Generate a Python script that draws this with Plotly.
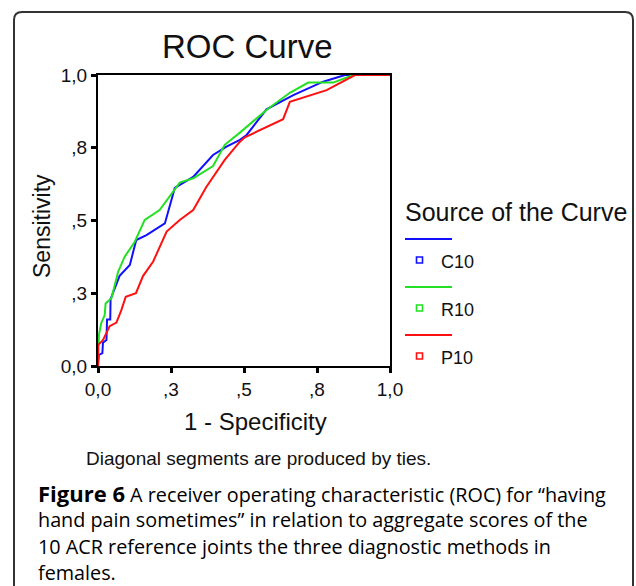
import plotly.graph_objects as go

W, H = 636, 586

# ROC curves (1 - specificity, sensitivity)
C10_x = [0, 0.003, 0.015, 0.017, 0.029, 0.031, 0.042, 0.043, 0.074, 0.109, 0.131, 0.166,
         0.229, 0.263, 0.326, 0.394, 0.44, 0.486, 0.509, 0.577, 0.669, 0.771, 0.846, 1.0]
C10_y = [0, 0.038, 0.044, 0.08, 0.089, 0.16, 0.16, 0.23, 0.31, 0.347, 0.433, 0.45,
         0.49, 0.612, 0.65, 0.725, 0.754, 0.777, 0.794, 0.882, 0.931, 0.977, 1.0, 1.0]

R10_x = [0, 0.003, 0.011, 0.023, 0.026, 0.046, 0.069, 0.091, 0.126, 0.16, 0.211, 0.263,
         0.28, 0.326, 0.394, 0.434, 0.486, 0.577, 0.657, 0.72, 0.806, 0.874, 1.0]
R10_y = [0, 0.106, 0.147, 0.175, 0.215, 0.233, 0.324, 0.375, 0.427, 0.502, 0.536, 0.61,
         0.63, 0.645, 0.687, 0.76, 0.802, 0.88, 0.939, 0.974, 0.974, 1.0, 1.0]

P10_x = [0, 0, 0.017, 0.04, 0.063, 0.08, 0.095, 0.13, 0.154, 0.189, 0.235, 0.28, 0.326,
         0.371, 0.434, 0.486, 0.503, 0.634, 0.657, 0.783, 0.88, 1.0]
P10_y = [0, 0.072, 0.089, 0.137, 0.149, 0.192, 0.238, 0.25, 0.309, 0.359, 0.462, 0.502, 0.536,
         0.615, 0.708, 0.771, 0.786, 0.848, 0.908, 0.948, 1.0, 1.0]

SERIES = ["C10", "R10", "P10"]
COLORS = ["#1010ff", "#22e022", "#ff1010"]
TICKVALS = [0, 0.25, 0.5, 0.75, 1.0]
TICKTEXT = ["0,0", ",3", ",5", ",8", "1,0"]

CAPTION = [
    "<span style='font-size:22px'><b>Figure 6</b></span> A receiver operating characteristic (ROC) for “having",
    "hand pain sometimes” in relation to aggregate scores of the",
    "10 ACR reference joints the three diagnostic methods in",
    "females.",
]

SANS = "Liberation Sans, Arial, sans-serif"
CAP_FONT = "Open Sans, Noto Sans, sans-serif"
INK = "#111111"


def px(x):
    # window pixel -> paper fraction
    return x / W


def py(y):
    return 1 - y / H


fig = go.Figure()
for name, xs, ys, c in zip(SERIES, [C10_x, R10_x, P10_x], [C10_y, R10_y, P10_y], COLORS):
    fig.add_trace(go.Scatter(x=xs, y=ys, mode="lines", name=name, showlegend=False,
                             line=dict(color=c, width=2), hoverinfo="x+y+name"))

axis = dict(range=[0, 1], showgrid=False, zeroline=False, showline=True, mirror=True,
            linecolor="#000000", linewidth=2, ticks="outside", ticklen=5, tickwidth=3,
            tickcolor="#000000", tickvals=TICKVALS, ticktext=TICKTEXT, layer="below traces",
            automargin=False, tickfont=dict(family=SANS, size=19, color=INK))

fig.update_layout(
    template="none",
    width=W, height=H,
    margin=dict(l=0, r=0, t=0, b=0, pad=0),
    paper_bgcolor="white", plot_bgcolor="white",
    xaxis=dict(axis, domain=[px(98), px(390)]),
    yaxis=dict(axis, domain=[py(366), py(75)]),
    showlegend=False,
)

# card border with rounded top corners (open at the bottom)
r = 8
L, T, R, B = 14, 12, 633, 590
path = (f"M {px(L)},{py(B)} L {px(L)},{py(T + r)} Q {px(L)},{py(T)} {px(L + r)},{py(T)} "
        f"L {px(R - r)},{py(T)} Q {px(R)},{py(T)} {px(R)},{py(T + r)} L {px(R)},{py(B)}")
fig.add_shape(type="path", path=path, xref="paper", yref="paper",
              line=dict(color="#333333", width=2))

ann = []
ann.append(dict(text="ROC Curve", x=px(247), y=py(47), font=dict(family=SANS, size=33, color=INK)))
ann.append(dict(text="Sensitivity", x=px(42), y=py(226), textangle=-90,
                font=dict(family=SANS, size=23, color=INK)))
ann.append(dict(text="1 - Specificity", x=px(255), y=py(421), font=dict(family=SANS, size=24, color=INK)))
ann.append(dict(text="Diagonal segments are produced by ties.", x=px(84), y=py(458), xanchor="left",
                font=dict(family=SANS, size=19, color=INK)))
ann.append(dict(text="Source of the Curve", x=px(403), y=py(212), xanchor="left",
                font=dict(family=SANS, size=25, color=INK)))

# legend: line, then small hollow square with label below
for i, (name, c) in enumerate(zip(SERIES, COLORS)):
    ly = 239 + i * 48
    my = ly + 21
    fig.add_shape(type="line", xref="paper", yref="paper", x0=px(405), x1=px(452), y0=py(ly), y1=py(ly),
                  line=dict(color=c, width=2))
    fig.add_shape(type="rect", xref="paper", yref="paper", x0=px(416.5), x1=px(422.5),
                  y0=py(my - 3), y1=py(my + 3), line=dict(color=c, width=1.6))
    ann.append(dict(text=name, x=px(439), y=py(my + 2), xanchor="left",
                    font=dict(family=SANS, size=18, color=INK)))

for i, line in enumerate(CAPTION):
    ann.append(dict(text=line, x=px(36), y=py(493 + i * 26.6), xanchor="left",
                    font=dict(family=CAP_FONT, size=19.8, color="#000000")))

for a in ann:
    a.setdefault("xanchor", "center")
    fig.add_annotation(xref="paper", yref="paper", yanchor="middle", showarrow=False, **a)

# drop the page's default body margin so the figure fills the window exactly
fig.write_html("out.html", config={"displayModeBar": False},
               post_script="document.body.style.margin='0';document.body.style.overflow='hidden';")
